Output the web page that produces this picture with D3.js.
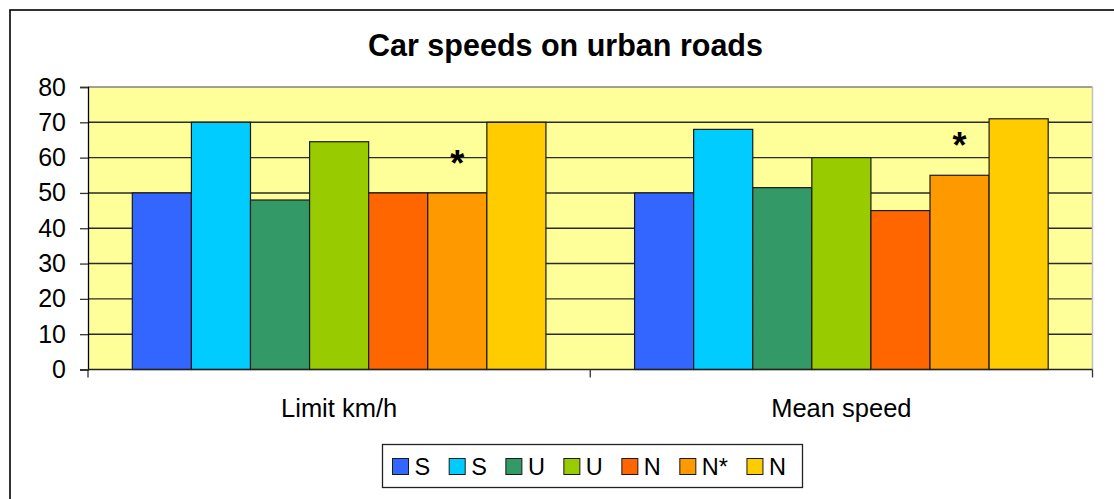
<!DOCTYPE html>
<html>
<head>
<meta charset="utf-8">
<script src="https://cdn.jsdelivr.net/npm/d3@7"></script>
<style>
  html, body { margin: 0; padding: 0; background: #fff; overflow: hidden; }
  svg { display: block; font-family: Arial, "Liberation Sans", sans-serif; }
</style>
</head>
<body>
<svg id="chart" width="1114" height="499"></svg>
<script>
// Speed categories and the series plotted in each group
const categories = ["Limit km/h", "Mean speed"];
const seriesNames = ["S", "S", "U", "U", "N", "N*", "N"];
const seriesColors = ["#3366FF", "#00CCFF", "#339966", "#99CC00", "#FF6600", "#FF9900", "#FFCC00"];
const limitValues = [50, 70, 48, 64.5, 50, 50, 70];
const meanValues = [50, 68, 51.5, 60, 45, 55, 71];
const yTicks = [0, 10, 20, 30, 40, 50, 60, 70, 80];
// Series that get an asterisk above their bars
const starredSeries = [5];

const title = "Car speeds on urban roads";

const svg = d3.select("#chart");
const W = 1114, H = 499;

// Plot area
const plot = { left: 88, right: 1092.5, top: 87, bottom: 369.5 };

// Chart frame (runs past the right and bottom edges of the view)
svg.append("rect")
  .attr("x", 10).attr("y", 10)
  .attr("width", W + 20).attr("height", H + 20)
  .attr("fill", "#fff").attr("stroke", "#000").attr("stroke-width", 1.6);

const y = d3.scaleLinear().domain([0, 80]).range([plot.bottom, plot.top]);
const x0 = d3.scaleBand().domain(categories).range([plot.left, plot.right]).paddingInner(0).paddingOuter(0);
// 7 bars per group, gap between groups 1.5 bar widths
const barW = x0.bandwidth() / (seriesNames.length + 1.5);
const x1 = d3.scaleBand().domain(d3.range(seriesNames.length))
  .range([barW * 0.75, barW * 0.75 + barW * seriesNames.length]).padding(0);

// Plot background
svg.append("rect")
  .attr("x", plot.left).attr("y", plot.top)
  .attr("width", plot.right - plot.left).attr("height", plot.bottom - plot.top)
  .attr("fill", "#FFFF99");

// Horizontal gridlines
svg.append("g")
  .selectAll("line")
  .data(yTicks.filter(t => t > 0))
  .join("line")
  .attr("x1", plot.left).attr("x2", plot.right)
  .attr("y1", d => y(d)).attr("y2", d => y(d))
  .attr("stroke", d => d === 80 ? "#808080" : "#2a2a2a")
  .attr("stroke-width", 1.4);

// Right edge of plot area
svg.append("line")
  .attr("x1", plot.right).attr("x2", plot.right)
  .attr("y1", plot.top).attr("y2", plot.bottom)
  .attr("stroke", "#c0c0c0").attr("stroke-width", 1.5);

// Bars
const groups = [limitValues, meanValues];
const barData = [];
groups.forEach((vals, gi) => {
  vals.forEach((v, si) => barData.push({ cat: categories[gi], si, v }));
});

svg.append("g")
  .selectAll("rect")
  .data(barData)
  .join("rect")
  .attr("x", d => x0(d.cat) + x1(d.si))
  .attr("y", d => y(d.v))
  .attr("width", x1.bandwidth())
  .attr("height", d => y(0) - y(d.v))
  .attr("fill", d => seriesColors[d.si])
  .attr("stroke", "#1a1a1a")
  .attr("stroke-width", 1.2);

// Asterisks above marked bars
svg.append("g")
  .selectAll("text")
  .data(barData.filter(d => starredSeries.includes(d.si)))
  .join("text")
  .attr("x", d => x0(d.cat) + x1(d.si) + x1.bandwidth() / 2)
  .attr("y", d => y(d.v) - 17)
  .attr("text-anchor", "middle")
  .attr("font-size", 36)
  .attr("font-weight", "bold")
  .attr("fill", "#000")
  .text("*");

// Y axis
const yAxis = d3.axisLeft(y).tickValues(yTicks).tickSize(8).tickPadding(14);
const gy = svg.append("g")
  .attr("transform", `translate(${plot.left},0)`)
  .call(yAxis);
gy.select(".domain").attr("stroke", "#000").attr("stroke-width", 1.3);
gy.selectAll(".tick line").attr("stroke", "#333").attr("stroke-width", 1.3);
gy.selectAll(".tick text")
  .attr("font-size", 25).attr("fill", "#000")
  .attr("font-family", "Arial, 'Liberation Sans', sans-serif");

// X axis: category labels centered, ticks at the group boundaries
const gx = svg.append("g").attr("transform", `translate(0,${plot.bottom})`);
gx.append("line")
  .attr("x1", plot.left).attr("x2", plot.right)
  .attr("stroke", "#222").attr("stroke-width", 1.6);
const boundaries = [plot.left, ...categories.map(c => x0(c) + x0.bandwidth())];
gx.selectAll("line.tick")
  .data(boundaries)
  .join("line")
  .attr("class", "tick")
  .attr("x1", d => d).attr("x2", d => d)
  .attr("y1", 0).attr("y2", 8)
  .attr("stroke", "#333").attr("stroke-width", 1.3);
gx.selectAll("text")
  .data(categories)
  .join("text")
  .attr("x", d => x0(d) + x0.bandwidth() / 2)
  .attr("y", 47)
  .attr("text-anchor", "middle")
  .attr("font-size", 25.5)
  .attr("fill", "#000")
  .text(d => d);

// Title
svg.append("text")
  .attr("x", 565.5).attr("y", 56)
  .attr("text-anchor", "middle")
  .attr("font-size", 30.5).attr("font-weight", "bold")
  .attr("fill", "#000")
  .text(title);

// Legend
const legend = { x: 382.5, y: 444.5, w: 420, h: 43 };
svg.append("rect")
  .attr("x", legend.x).attr("y", legend.y)
  .attr("width", legend.w).attr("height", legend.h)
  .attr("fill", "#fff").attr("stroke", "#222").attr("stroke-width", 1.3);

const lg = svg.append("g");
let cx = legend.x + 10;
seriesNames.forEach((name, i) => {
  lg.append("rect")
    .attr("x", cx).attr("y", 458.5)
    .attr("width", 16).attr("height", 16)
    .attr("fill", seriesColors[i])
    .attr("stroke", "#1a1a1a").attr("stroke-width", 1);
  const t = lg.append("text")
    .attr("x", cx + 22).attr("y", 475)
    .attr("font-size", 23.5).attr("fill", "#000")
    .text(name);
  cx += 22 + t.node().getComputedTextLength() + 19;
});
</script>
</body>
</html>
